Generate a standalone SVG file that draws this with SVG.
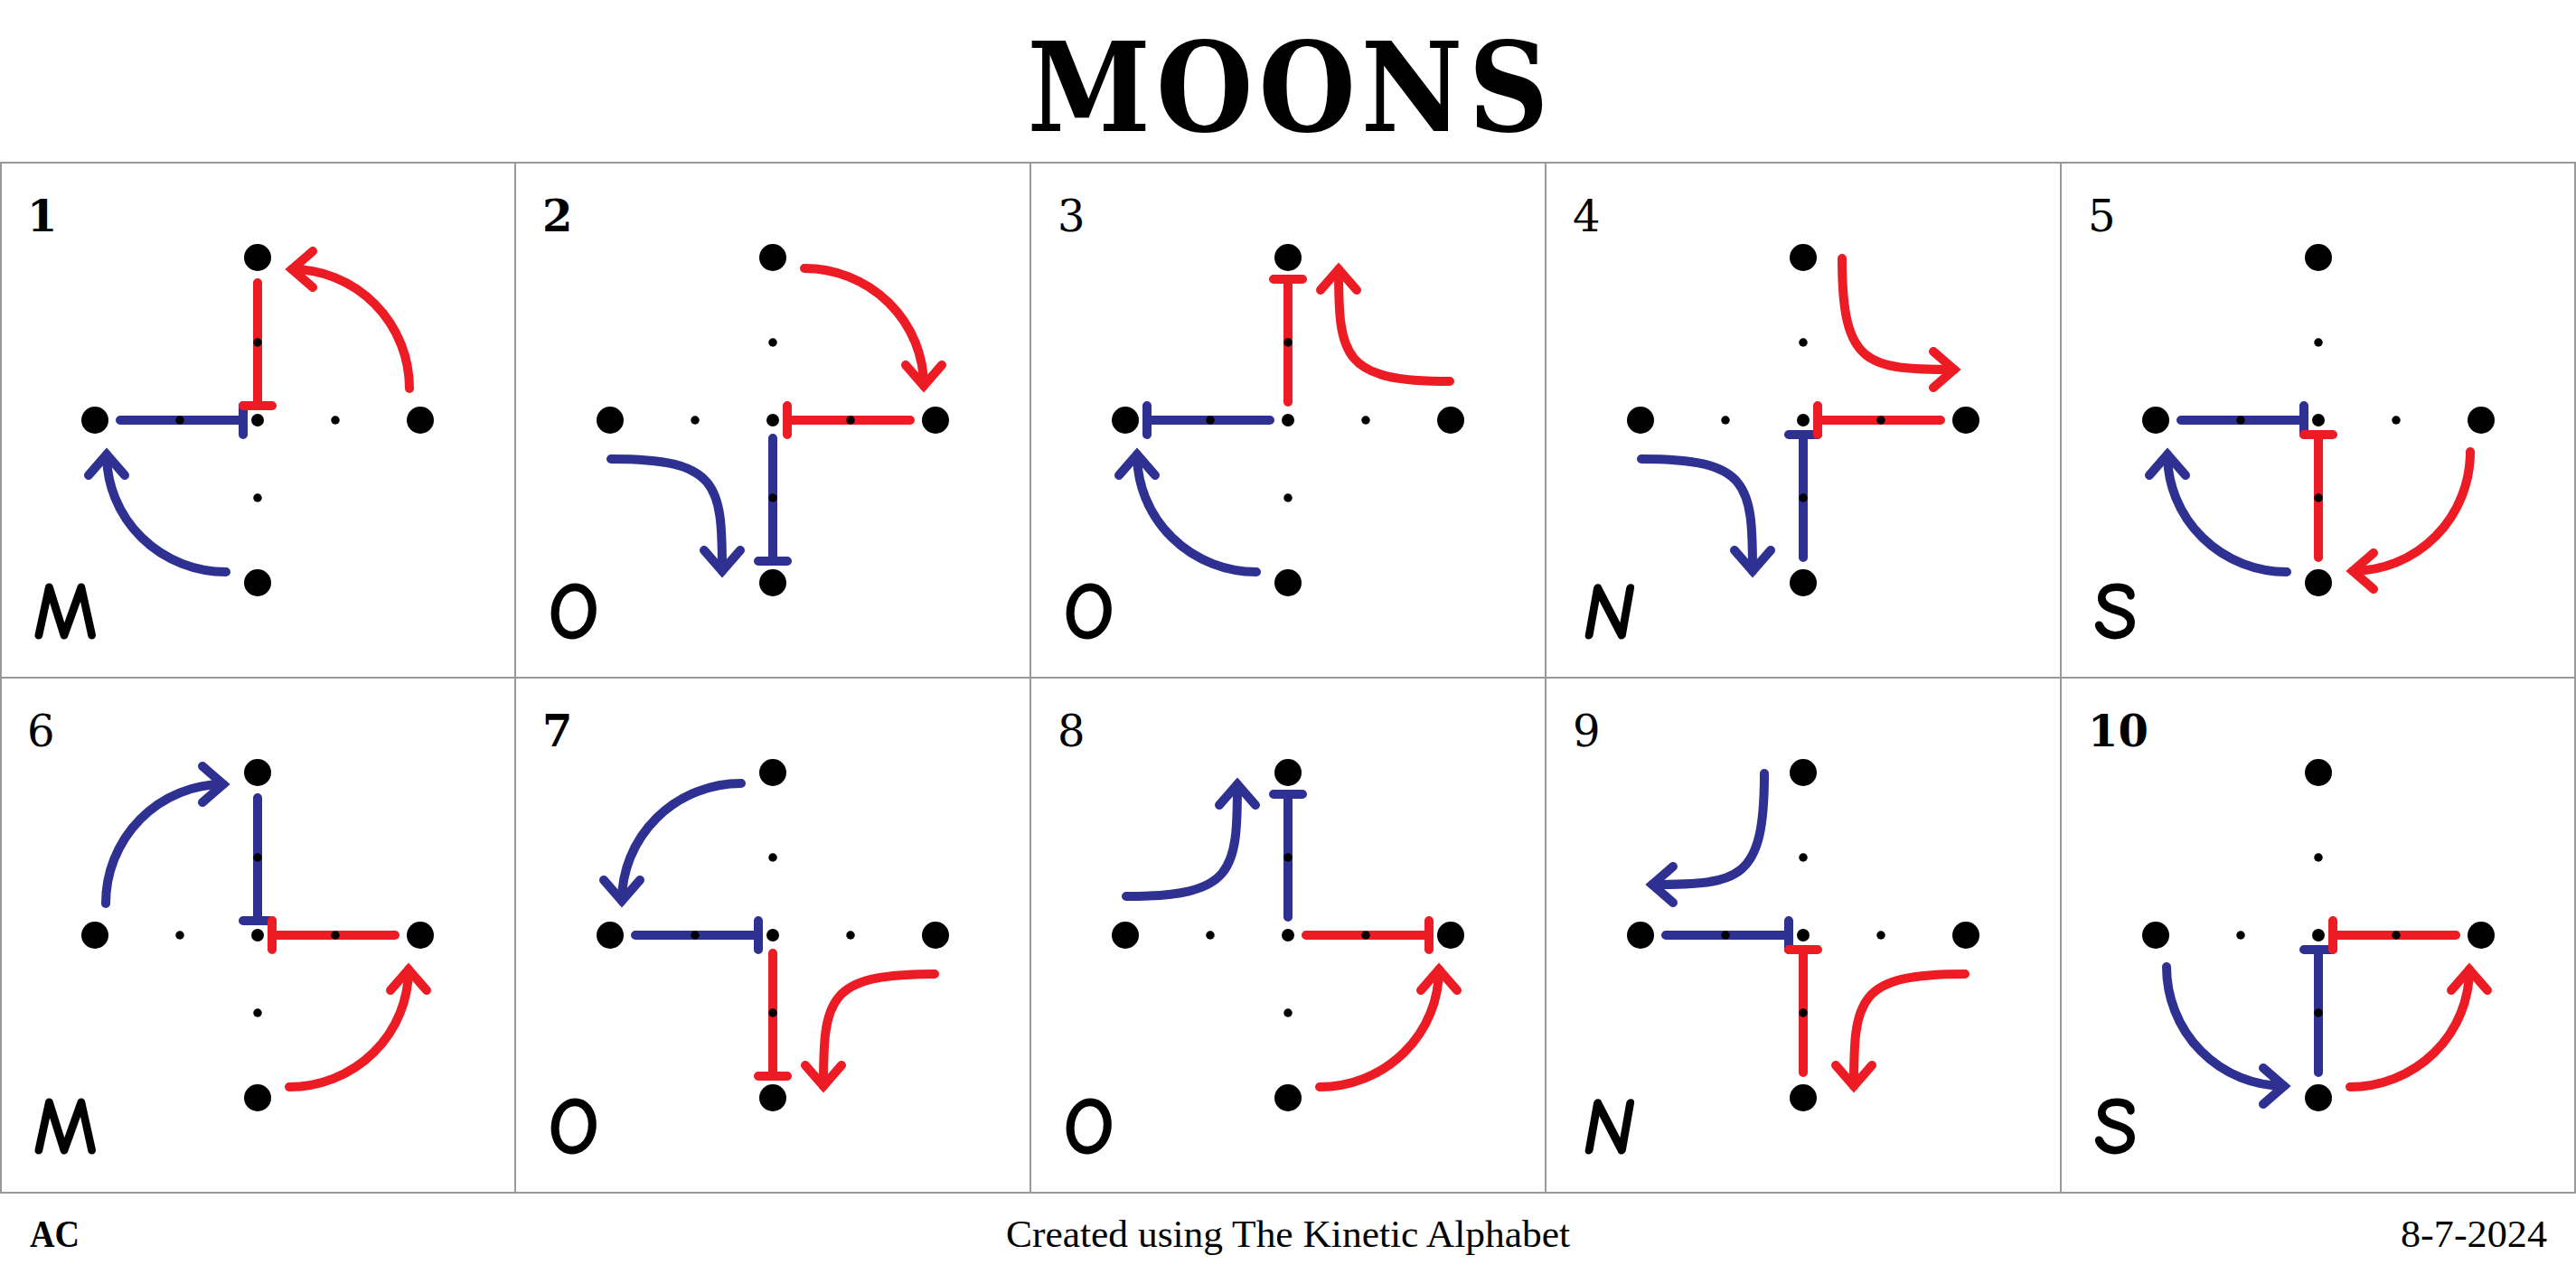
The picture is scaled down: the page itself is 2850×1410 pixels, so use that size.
<svg xmlns="http://www.w3.org/2000/svg" xmlns:xlink="http://www.w3.org/1999/xlink" width="2850" height="1410" viewBox="0 0 2850 1410">
<style>
.grid{stroke:#999999;stroke-width:2;fill:none}
.b{stroke:#2E3192;stroke-width:10;fill:none;stroke-linecap:round;stroke-linejoin:round}
.r{stroke:#ED1C24;stroke-width:10;fill:none;stroke-linecap:round;stroke-linejoin:round}
.ba{marker-end:url(#ahB)}
.ra{marker-end:url(#ahR)}
.num{font-family:'DejaVu Serif','Liberation Serif',serif;font-size:48px;fill:#000}
.bold{font-weight:bold}
.let{font-family:'Comic Sans MS','Comic Neue','DejaVu Sans',sans-serif;font-weight:bold;font-size:90px;fill:#000}
.foot{font-family:'Liberation Serif','Times New Roman',serif;font-size:42px;fill:#000}
</style>
<defs>
<marker id="ahB" markerUnits="userSpaceOnUse" viewBox="-50 -40 70 80" refX="0" refY="0" markerWidth="70" markerHeight="80" orient="auto" overflow="visible">
<path d="M-23,-20 L0,0 L-23,20" fill="none" stroke="#2E3192" stroke-width="10" stroke-linejoin="miter" stroke-linecap="round"/>
</marker>
<marker id="ahR" markerUnits="userSpaceOnUse" viewBox="-50 -40 70 80" refX="0" refY="0" markerWidth="70" markerHeight="80" orient="auto" overflow="visible">
<path d="M-23,-20 L0,0 L-23,20" fill="none" stroke="#ED1C24" stroke-width="10" stroke-linejoin="miter" stroke-linecap="round"/>
</marker>
<g id="dotgrid" fill="#000">
<circle cx="0" cy="-180" r="15"/>
<circle cx="0" cy="180" r="15"/>
<circle cx="-180" cy="0" r="15"/>
<circle cx="180" cy="0" r="15"/>
<circle cx="0" cy="0" r="7"/>
<circle cx="0" cy="-86" r="4.75"/>
<circle cx="0" cy="86" r="4.75"/>
<circle cx="-86" cy="0" r="4.75"/>
<circle cx="86" cy="0" r="4.75"/>
</g>
</defs>
<rect x="0" y="0" width="2850" height="1410" fill="#ffffff"/>
<text x="1425" y="145" text-anchor="middle" font-family="'DejaVu Serif Condensed','DejaVu Serif','Liberation Serif',serif" font-stretch="condensed" font-weight="bold" font-size="137" textLength="577" lengthAdjust="spacing">MOONS</text>
<g id="grid" class="grid">
<path d="M0,180 H2850 M0,750 H2850 M0,1320 H2850 M1,180 V1320 M570,180 V1320 M1140,180 V1320 M1710,180 V1320 M2280,180 V1320 M2849,180 V1320"/>
</g>
<g id="connectors">
<g id="conn1" transform="translate(285,465)">
<path class="b" d="M-152,0 L-16,0 M-16,-16 L-16,16"/>
<path class="b ba" d="M-35,168 A132,130 0 0 1 -167,38"/>
<path class="r" d="M0,-152 L0,-16 M-16,-16 L16,-16"/>
<path class="r ra" d="M168,-35 A130,132 0 0 0 38,-167"/>
</g>
<g id="conn2" transform="translate(855,465)">
<path class="b" d="M0,20 L0,156 M-16,156 L16,156"/>
<path class="b ba" d="M-179,43 C-60,43 -56,70 -56,167"/>
<path class="r" d="M152,0 L16,0 M16,-16 L16,16"/>
<path class="r ra" d="M35,-168 A132,130 0 0 1 167,-38"/>
</g>
<g id="conn3" transform="translate(1425,465)">
<path class="b" d="M-20,0 L-156,0 M-156,-16 L-156,16"/>
<path class="b ba" d="M-35,168 A132,130 0 0 1 -167,38"/>
<path class="r" d="M0,-20 L0,-156 M-16,-156 L16,-156"/>
<path class="r ra" d="M179,-43 C60,-43 56,-70 56,-167"/>
</g>
<g id="conn4" transform="translate(1995,465)">
<path class="b" d="M0,152 L0,16 M-16,16 L16,16"/>
<path class="b ba" d="M-179,43 C-60,43 -56,70 -56,167"/>
<path class="r" d="M152,0 L16,0 M16,-16 L16,16"/>
<path class="r ra" d="M43,-179 C43,-60 70,-56 167,-56"/>
</g>
<g id="conn5" transform="translate(2565,465)">
<path class="b" d="M-152,0 L-16,0 M-16,-16 L-16,16"/>
<path class="b ba" d="M-35,168 A132,130 0 0 1 -167,38"/>
<path class="r" d="M0,152 L0,16 M-16,16 L16,16"/>
<path class="r ra" d="M168,35 A130,132 0 0 1 38,167"/>
</g>
<g id="conn6" transform="translate(285,1035)">
<path class="b" d="M0,-152 L0,-16 M-16,-16 L16,-16"/>
<path class="b ba" d="M-168,-35 A130,132 0 0 1 -38,-167"/>
<path class="r" d="M152,0 L16,0 M16,-16 L16,16"/>
<path class="r ra" d="M35,168 A132,130 0 0 0 167,38"/>
</g>
<g id="conn7" transform="translate(855,1035)">
<path class="b" d="M-152,0 L-16,0 M-16,-16 L-16,16"/>
<path class="b ba" d="M-35,-168 A132,130 0 0 0 -167,-38"/>
<path class="r" d="M0,20 L0,156 M-16,156 L16,156"/>
<path class="r ra" d="M179,43 C60,43 56,70 56,167"/>
</g>
<g id="conn8" transform="translate(1425,1035)">
<path class="b" d="M0,-20 L0,-156 M-16,-156 L16,-156"/>
<path class="b ba" d="M-179,-43 C-60,-43 -56,-70 -56,-167"/>
<path class="r" d="M20,0 L156,0 M156,-16 L156,16"/>
<path class="r ra" d="M35,168 A132,130 0 0 0 167,38"/>
</g>
<g id="conn9" transform="translate(1995,1035)">
<path class="b" d="M-152,0 L-16,0 M-16,-16 L-16,16"/>
<path class="b ba" d="M-43,-179 C-43,-60 -70,-56 -167,-56"/>
<path class="r" d="M0,152 L0,16 M-16,16 L16,16"/>
<path class="r ra" d="M179,43 C60,43 56,70 56,167"/>
</g>
<g id="conn10" transform="translate(2565,1035)">
<path class="b" d="M0,152 L0,16 M-16,16 L16,16"/>
<path class="b ba" d="M-168,35 A130,132 0 0 0 -38,167"/>
<path class="r" d="M152,0 L16,0 M16,-16 L16,16"/>
<path class="r ra" d="M35,168 A132,130 0 0 0 167,38"/>
</g>
</g>
<g id="panel1" transform="translate(285,465)"><use xlink:href="#dotgrid" href="#dotgrid"/><text class="num bold" x="-255" y="-209">1</text><text class="let" x="-249" y="242">M</text></g>
<g id="panel2" transform="translate(855,465)"><use xlink:href="#dotgrid" href="#dotgrid"/><text class="num bold" x="-255" y="-209">2</text><text class="let" x="-249" y="242">O</text></g>
<g id="panel3" transform="translate(1425,465)"><use xlink:href="#dotgrid" href="#dotgrid"/><text class="num" x="-255" y="-209">3</text><text class="let" x="-249" y="242">O</text></g>
<g id="panel4" transform="translate(1995,465)"><use xlink:href="#dotgrid" href="#dotgrid"/><text class="num" x="-255" y="-209">4</text><text class="let" x="-249" y="242" transform="skewX(-10) translate(43,0)">N</text></g>
<g id="panel5" transform="translate(2565,465)"><use xlink:href="#dotgrid" href="#dotgrid"/><text class="num" x="-255" y="-209">5</text><text class="let" x="-249" y="242">S</text></g>
<g id="panel6" transform="translate(285,1035)"><use xlink:href="#dotgrid" href="#dotgrid"/><text class="num" x="-255" y="-209">6</text><text class="let" x="-249" y="242">M</text></g>
<g id="panel7" transform="translate(855,1035)"><use xlink:href="#dotgrid" href="#dotgrid"/><text class="num bold" x="-255" y="-209">7</text><text class="let" x="-249" y="242">O</text></g>
<g id="panel8" transform="translate(1425,1035)"><use xlink:href="#dotgrid" href="#dotgrid"/><text class="num" x="-255" y="-209">8</text><text class="let" x="-249" y="242">O</text></g>
<g id="panel9" transform="translate(1995,1035)"><use xlink:href="#dotgrid" href="#dotgrid"/><text class="num" x="-255" y="-209">9</text><text class="let" x="-249" y="242" transform="skewX(-10) translate(43,0)">N</text></g>
<g id="panel10" transform="translate(2565,1035)"><use xlink:href="#dotgrid" href="#dotgrid"/><text class="num bold" x="-255" y="-209">10</text><text class="let" x="-249" y="242">S</text></g>
<g id="footer">
<text class="foot" font-weight="bold" x="33" y="1380" textLength="55" lengthAdjust="spacingAndGlyphs">AC</text>
<text class="foot" x="1425" y="1380" text-anchor="middle" textLength="624" lengthAdjust="spacingAndGlyphs">Created using The Kinetic Alphabet</text>
<text class="foot" x="2818" y="1380" text-anchor="end" textLength="162" lengthAdjust="spacingAndGlyphs">8-7-2024</text>
</g>
</svg>
